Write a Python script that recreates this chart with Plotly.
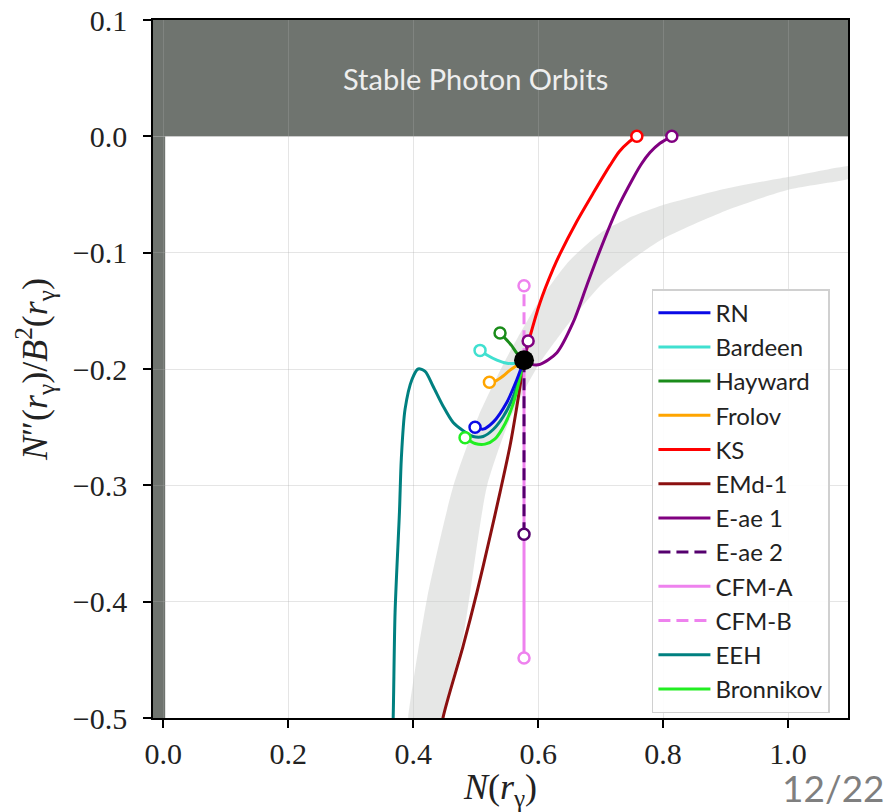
import plotly.graph_objects as go

# Schwarzschild reference point (N = 1/sqrt(3), N''/B^2 = -1/(3 sqrt 3))
schw_N = [0.5774]
schw_y = [-0.1925]

# Curves: N(r_gamma) and N''(r_gamma)/B^2(r_gamma)
rn_N = [0.5774, 0.566, 0.550, 0.528, 0.512, 0.499]
rn_y = [-0.1925, -0.209, -0.2285, -0.2457, -0.2517, -0.250]

bardeen_N = [0.5774, 0.563, 0.550, 0.534, 0.518, 0.507]
bardeen_y = [-0.1925, -0.195, -0.195, -0.1924, -0.188, -0.184]

hayward_N = [0.5774, 0.566, 0.557, 0.547, 0.539]
hayward_y = [-0.1925, -0.1864, -0.1795, -0.1735, -0.169]

frolov_N = [0.5774, 0.566, 0.555, 0.544, 0.531, 0.522]
frolov_y = [-0.1925, -0.197, -0.201, -0.206, -0.2105, -0.2113]

ks_N = [0.5774, 0.587, 0.603, 0.624, 0.635, 0.661, 0.688, 0.715, 0.730, 0.745, 0.758]
ks_y = [-0.1925, -0.172, -0.143, -0.114, -0.101, -0.074, -0.049, -0.025, -0.013, -0.005, 0.0]

emd_N = [0.5774, 0.566, 0.555, 0.539, 0.523, 0.502, 0.480, 0.448, 0.442]
emd_y = [-0.1925, -0.232, -0.266, -0.306, -0.344, -0.392, -0.438, -0.499, -0.52]

eae1_stub_N = [0.584, 0.5774]
eae1_stub_y = [-0.176, -0.1925]
eae1_N = [0.5774, 0.590, 0.603, 0.630, 0.656, 0.678, 0.699, 0.726, 0.752, 0.765, 0.779, 0.795, 0.814]
eae1_y = [-0.1925, -0.196, -0.196, -0.186, -0.160, -0.128, -0.098, -0.063, -0.036, -0.024, -0.014, -0.006, 0.0]

eae2_N = [0.5774, 0.5774]
eae2_y = [-0.1925, -0.342]

cfma_N = [0.5774, 0.5774]
cfma_y = [-0.4485, -0.1925]

cfmb_N = [0.5774, 0.5774]
cfmb_y = [-0.1925, -0.1285]

eeh_N = [0.366, 0.368, 0.371, 0.378, 0.381, 0.387, 0.398, 0.408, 0.419, 0.432, 0.448,
         0.464, 0.480, 0.496, 0.512, 0.528, 0.544, 0.560, 0.5774]
eeh_y = [-0.53, -0.499, -0.409, -0.323, -0.277, -0.2345, -0.209, -0.200, -0.202, -0.215, -0.232,
         -0.246, -0.253, -0.258, -0.258, -0.252, -0.241, -0.224, -0.1925]

bron_N = [0.5774, 0.560, 0.547, 0.531, 0.515, 0.499, 0.483]
bron_y = [-0.1925, -0.230, -0.247, -0.260, -0.2646, -0.264, -0.259]

# Shaded band: upper-left and lower-right edges
band_upper_N = [0.385, 0.392, 0.422, 0.464, 0.505, 0.550, 0.600, 0.650, 0.700, 0.750, 0.800, 0.900, 1.000, 1.120]
band_upper_y = [-0.55, -0.50, -0.398, -0.301, -0.240, -0.190, -0.143, -0.107, -0.083, -0.069, -0.059, -0.045, -0.035, -0.025]
band_lower_N = [0.455, 0.448, 0.480, 0.518, 0.555, 0.600, 0.650, 0.700, 0.750, 0.800, 0.900, 1.000, 1.120]
band_lower_y = [-0.55, -0.50, -0.43, -0.301, -0.243, -0.197, -0.160, -0.128, -0.106, -0.088, -0.064, -0.046, -0.033]

x_ticks = [0.0, 0.2, 0.4, 0.6, 0.8, 1.0]
x_ticktext = ["0.0", "0.2", "0.4", "0.6", "0.8", "1.0"]
y_ticks = [-0.5, -0.4, -0.3, -0.2, -0.1, 0.0, 0.1]
y_ticktext = ["\u22120.5", "\u22120.4", "\u22120.3", "\u22120.2", "\u22120.1", "0.0", "0.1"]

x_range = [-0.0165, 1.096]
y_range = [-0.5, 0.1]

REGION_GREY = "#6f746f"

fig = go.Figure()

# light band
fig.add_trace(go.Scatter(
    x=band_upper_N + band_lower_N[::-1],
    y=band_upper_y + band_lower_y[::-1],
    fill="toself", fillcolor="rgba(200,202,200,0.45)",
    line=dict(width=0, shape="spline", smoothing=0.6), mode="lines",
    hoverinfo="skip", showlegend=False,
))

series = [
    ("RN", rn_N, rn_y, "#0a0ae6", "solid"),
    ("Bardeen", bardeen_N, bardeen_y, "#40e0d0", "solid"),
    ("Hayward", hayward_N, hayward_y, "#1a8c1a", "solid"),
    ("Frolov", frolov_N, frolov_y, "#ffa500", "solid"),
    ("KS", ks_N, ks_y, "#ff0000", "solid"),
    ("EMd-1", emd_N, emd_y, "#8b1010", "solid"),
    ("E-ae 1", eae1_N, eae1_y, "#800080", "solid"),
    ("E-ae 2", eae2_N, eae2_y, "#55006e", "12px,6px"),
    ("CFM-A", cfma_N, cfma_y, "#ee82ee", "solid"),
    ("CFM-B", cfmb_N, cfmb_y, "#ee82ee", "12px,6px"),
    ("EEH", eeh_N, eeh_y, "#008080", "solid"),
    ("Bronnikov", bron_N, bron_y, "#22ee22", "solid"),
]
names = [s[0] for s in series]
lookup = {s[0]: s for s in series}

# drawing order (bottom to top); legend keeps the series order through legendrank
draw_order = ["EMd-1", "CFM-A", "EEH", "Bronnikov", "RN", "Frolov", "Bardeen", "Hayward",
              "KS", "E-ae 1", "E-ae 2", "CFM-B"]

for name in draw_order:
    label, xs, ys, color, dash = lookup[name]
    straight = xs[0] == xs[-1]
    fig.add_trace(go.Scatter(
        x=xs, y=ys, mode="lines", name=label, legendgroup=label,
        legendrank=names.index(name) + 1,
        line=dict(color=color, width=3, dash=dash,
                  shape="linear" if straight else "spline", smoothing=0.8),
        hoverinfo="skip",
    ))
    if name == "E-ae 1":
        fig.add_trace(go.Scatter(
            x=eae1_stub_N, y=eae1_stub_y, mode="lines", legendgroup=label, showlegend=False,
            line=dict(color=color, width=3), hoverinfo="skip",
        ))

# open end markers
end_markers = [
    ("RN", [rn_N[-1]], [rn_y[-1]]),
    ("Bardeen", [bardeen_N[-1]], [bardeen_y[-1]]),
    ("Hayward", [hayward_N[-1]], [hayward_y[-1]]),
    ("Frolov", [frolov_N[-1]], [frolov_y[-1]]),
    ("KS", [ks_N[-1]], [ks_y[-1]]),
    ("E-ae 1", [eae1_N[-1], eae1_stub_N[0]], [eae1_y[-1], eae1_stub_y[0]]),
    ("E-ae 2", [eae2_N[-1]], [eae2_y[-1]]),
    ("CFM-A", [cfma_N[0]], [cfma_y[0]]),
    ("CFM-B", [cfmb_N[-1]], [cfmb_y[-1]]),
    ("Bronnikov", [bron_N[-1]], [bron_y[-1]]),
]
for name, mx, my in end_markers:
    color = lookup[name][3]
    fig.add_trace(go.Scatter(
        x=mx, y=my, mode="markers", showlegend=False, legendgroup=name,
        marker=dict(symbol="circle", size=11, color="white", line=dict(color=color, width=2.5)),
        hoverinfo="skip",
    ))

# Schwarzschild point
fig.add_trace(go.Scatter(
    x=schw_N, y=schw_y, mode="markers", showlegend=False,
    marker=dict(size=20, color="black"), hoverinfo="skip",
))

# excluded regions (drawn beneath the grid)
fig.add_shape(type="rect", xref="x", yref="y", x0=x_range[0], x1=x_range[1], y0=0.0, y1=y_range[1],
              fillcolor=REGION_GREY, line=dict(width=0), layer="below")
fig.add_shape(type="rect", xref="x", yref="y", x0=x_range[0], x1=0.003, y0=y_range[0], y1=0.0,
              fillcolor=REGION_GREY, line=dict(width=0), layer="below")

fig.add_annotation(x=0.5, y=0.05, xref="x", yref="y", text="Stable Photon Orbits",
                   showarrow=False, font=dict(family="Lato", size=29, color="#eeeeee"))

fig.add_annotation(x=0.979, y=-0.099, xref="paper", yref="paper", text="12/22",
                   showarrow=False, font=dict(family="Lato", size=37, color="#7f7f7f"),
                   xanchor="center", yanchor="middle", borderpad=0)

tick_font = dict(family="Liberation Serif", size=30, color="#222222")
axis_common = dict(
    showline=True, linecolor="black", linewidth=1.5, mirror=True,
    ticks="outside", ticklen=8, tickwidth=1.5, tickcolor="black",
    showgrid=True, gridcolor="rgba(170,170,170,0.3)", gridwidth=1,
    zeroline=False, tickfont=tick_font, automargin=False,
)

fig.update_xaxes(range=x_range, tickvals=x_ticks, ticktext=x_ticktext,
                 title=dict(text="<i>N</i>(<i>r</i><sub>γ</sub>)",
                            font=dict(family="Liberation Serif", size=36, color="#222222"),
                            standoff=12),
                 **axis_common)
fig.update_yaxes(range=y_range, tickvals=y_ticks, ticktext=y_ticktext,
                 ticklabelstandoff=10,
                 title=dict(text="<i>N</i>″(<i>r</i><sub>γ</sub>)/<i>B</i><sup>2</sup>(<i>r</i><sub>γ</sub>)",
                            font=dict(family="Liberation Serif", size=36, color="#222222"),
                            standoff=14),
                 **axis_common)

fig.update_layout(
    width=895, height=812,
    margin=dict(l=153, r=47, t=20, b=94),
    paper_bgcolor="white", plot_bgcolor="white",
    showlegend=True,
    legend=dict(
        x=0.974, y=0.007, xanchor="right", yanchor="bottom",
        bgcolor="rgba(255,255,255,0.9)", bordercolor="#d0d0d0", borderwidth=1.5,
        font=dict(family="Lato", size=24, color="#222222"),
        traceorder="grouped", tracegroupgap=0, itemwidth=52,
    ),
)

fig.write_html("out.html")
